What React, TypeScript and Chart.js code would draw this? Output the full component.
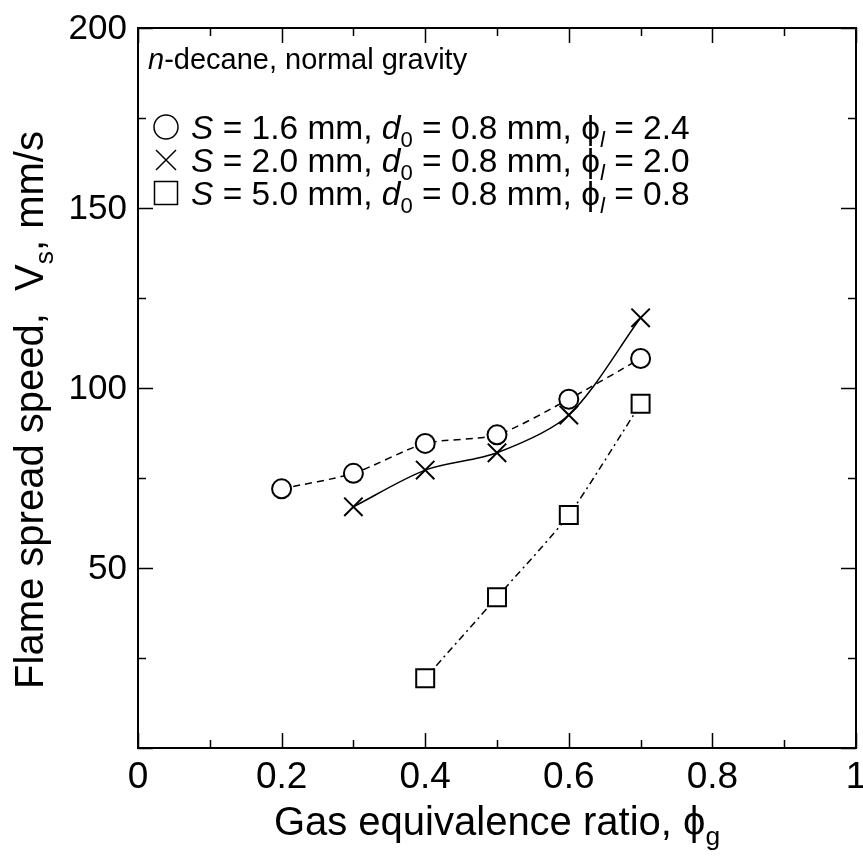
import React, { useEffect, useRef } from "react";
import { Chart, registerables } from "chart.js";

Chart.register(...registerables);

const FONT = '"Liberation Sans", Arial, Helvetica, sans-serif';

// ---- data ----
const circleX = [0.2, 0.3, 0.4, 0.5, 0.6, 0.7];
const circleY = [72, 76.3, 84.6, 87.0, 96.9, 108.2];
const crossX = [0.3, 0.4, 0.5, 0.6, 0.7];
const crossY = [67.0, 77.2, 82.0, 92.5, 119.5];
const squareX = [0.4, 0.5, 0.6, 0.7];
const squareY = [19.4, 41.9, 64.7, 95.6];

const xMajorTicks = [0, 0.2, 0.4, 0.6, 0.8, 1];
const xTickLabels = ["0", "0.2", "0.4", "0.6", "0.8", "1"];
const xMinorTicks = [0.1, 0.3, 0.5, 0.7, 0.9];
const yMajorTicks = [0, 50, 100, 150, 200];
const yTickLabels = ["", "50", "100", "150", "200"];
const yMinorTicks = [25, 75, 125, 175];

const headerText = "-decane, normal gravity";
const legendRows = [
  { S: "1.6", d0: "0.8", phi: "2.4", marker: "circle" },
  { S: "2.0", d0: "0.8", phi: "2.0", marker: "cross" },
  { S: "5.0", d0: "0.8", phi: "0.8", marker: "square" },
];

type Seg = { t: string; it?: boolean; sub?: boolean };

function segFont(s: Seg, size: number) {
  const sz = s.sub ? size * 0.66 : size;
  return `${s.it ? "italic " : ""}${sz}px ${FONT}`;
}

function drawRich(
  ctx: CanvasRenderingContext2D,
  segs: Seg[],
  x: number,
  y: number,
  size: number,
  align: "left" | "center" = "left"
) {
  let w = 0;
  const widths: number[] = [];
  for (const s of segs) {
    ctx.font = segFont(s, size);
    const m = ctx.measureText(s.t).width;
    widths.push(m);
    w += m;
  }
  let cx = align === "center" ? x - w / 2 : x;
  ctx.textAlign = "left";
  ctx.textBaseline = "alphabetic";
  segs.forEach((s, i) => {
    ctx.font = segFont(s, size);
    ctx.fillText(s.t, cx, s.sub ? y + size * 0.24 : y);
    cx += widths[i];
  });
}

const framePlugin = {
  id: "framePlugin",
  afterDraw(chart: any) {
    const ctx: CanvasRenderingContext2D = chart.ctx;
    const { left, right, top, bottom } = chart.chartArea;
    const xs = chart.scales.x;
    const ys = chart.scales.y;
    ctx.save();
    ctx.strokeStyle = "#000";
    ctx.fillStyle = "#000";
    ctx.lineWidth = 2;
    ctx.strokeRect(left, top, right - left, bottom - top);

    const MAJ = 15;
    const MIN = 8;
    ctx.lineWidth = 1.5;
    ctx.beginPath();
    const xt = (v: number, len: number) => {
      const px = Math.round(xs.getPixelForValue(v)) + 0.5;
      ctx.moveTo(px, bottom);
      ctx.lineTo(px, bottom - len);
      ctx.moveTo(px, top);
      ctx.lineTo(px, top + len);
    };
    const yt = (v: number, len: number) => {
      const py = Math.round(ys.getPixelForValue(v)) + 0.5;
      ctx.moveTo(left, py);
      ctx.lineTo(left + len, py);
      ctx.moveTo(right, py);
      ctx.lineTo(right - len, py);
    };
    xMajorTicks.forEach((v) => xt(v, MAJ));
    xMinorTicks.forEach((v) => xt(v, MIN));
    yMajorTicks.forEach((v) => yt(v, MAJ));
    yMinorTicks.forEach((v) => yt(v, MIN));
    ctx.stroke();

    // tick labels
    ctx.font = `37px ${FONT}`;
    ctx.textAlign = "center";
    ctx.textBaseline = "alphabetic";
    xMajorTicks.forEach((v, i) => {
      ctx.fillText(xTickLabels[i], xs.getPixelForValue(v), bottom + 40);
    });
    ctx.font = `35px ${FONT}`;
    ctx.textAlign = "right";
    ctx.textBaseline = "middle";
    yMajorTicks.forEach((v, i) => {
      if (yTickLabels[i]) ctx.fillText(yTickLabels[i], left - 11, ys.getPixelForValue(v) + 1);
    });

    // axis titles
    drawRich(
      ctx,
      [{ t: "Gas equivalence ratio, \u03D5" }, { t: "g", sub: true }],
      (left + right) / 2,
      bottom + 87,
      40,
      "center"
    );
    ctx.save();
    ctx.translate(43, 410);
    ctx.rotate(-Math.PI / 2);
    drawRich(
      ctx,
      [{ t: "Flame spread speed,  V" }, { t: "s", sub: true }, { t: ", mm/s" }],
      0,
      0,
      40,
      "center"
    );
    ctx.restore();

    // header
    drawRich(ctx, [{ t: "n", it: true }, { t: headerText }], left + 10, top + 41, 29);

    // legend
    const mx = left + 28;
    const rowY = [127, 160, 193];
    ctx.lineWidth = 1.5;
    legendRows.forEach((r, i) => {
      const cy = rowY[i];
      ctx.beginPath();
      if (r.marker === "circle") {
        ctx.arc(mx, cy, 12, 0, Math.PI * 2);
      } else if (r.marker === "cross") {
        ctx.moveTo(mx - 10, cy - 10);
        ctx.lineTo(mx + 10, cy + 10);
        ctx.moveTo(mx + 10, cy - 10);
        ctx.lineTo(mx - 10, cy + 10);
      } else {
        ctx.rect(mx - 11.5, cy - 11.5, 23, 23);
      }
      ctx.stroke();
      drawRich(
        ctx,
        [
          { t: "S", it: true },
          { t: ` = ${r.S} mm, ` },
          { t: "d", it: true },
          { t: "0", sub: true },
          { t: ` = ${r.d0} mm, \u03D5` },
          { t: "l", it: true, sub: true },
          { t: ` = ${r.phi}` },
        ],
        left + 53,
        cy + 12,
        33.5
      );
    });
    ctx.restore();
  },
};

export default function App() {
  const ref = useRef<HTMLCanvasElement | null>(null);
  useEffect(() => {
    if (!ref.current) return;
    const pts = (xs: number[], ys: number[]) => xs.map((x, i) => ({ x, y: ys[i] }));
    const chart = new Chart(ref.current, {
      type: "scatter",
      data: {
        datasets: [
          {
            label: "S = 1.6 mm",
            data: pts(circleX, circleY),
            showLine: true,
            borderColor: "#000",
            borderWidth: 1.5,
            borderDash: [7, 5],
            tension: 0.25,
            pointStyle: "circle",
            pointRadius: 9.5,
            pointBorderWidth: 2,
            pointBackgroundColor: "#fff",
            pointBorderColor: "#000",
          },
          {
            label: "S = 2.0 mm",
            data: pts(crossX, crossY),
            showLine: true,
            borderColor: "#000",
            borderWidth: 1.5,
            tension: 0.3,
            pointStyle: "crossRot",
            pointRadius: 13,
            pointBorderWidth: 2,
            pointBackgroundColor: "#fff",
            pointBorderColor: "#000",
          },
          {
            label: "S = 5.0 mm",
            data: pts(squareX, squareY),
            showLine: true,
            borderColor: "#000",
            borderWidth: 1.5,
            borderDash: [7, 4, 2, 4],
            tension: 0.2,
            pointStyle: "rect",
            pointRadius: 12.7,
            pointBorderWidth: 2,
            pointBackgroundColor: "#fff",
            pointBorderColor: "#000",
          },
        ],
      } as any,
      options: {
        animation: false,
        responsive: true,
        maintainAspectRatio: false,
        layout: { autoPadding: false, padding: { left: 138, right: 7, top: 28, bottom: 111 } },
        scales: {
          x: { type: "linear", min: 0, max: 1, display: false, ticks: { display: false } },
          y: { type: "linear", min: 0, max: 200, display: false, ticks: { display: false } },
        },
        plugins: { legend: { display: false }, tooltip: { enabled: false } },
      } as any,
      plugins: [framePlugin],
    });
    return () => chart.destroy();
  }, []);
  return (
    <div style={{ position: "fixed", left: 0, top: 0, width: 863, height: 859, background: "#fff" }}>
      <canvas ref={ref} style={{ display: "block" }} />
    </div>
  );
}
